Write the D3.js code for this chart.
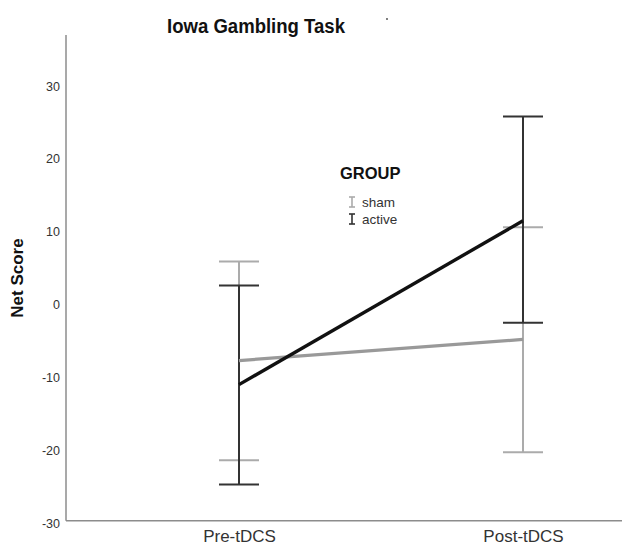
<!DOCTYPE html>
<html>
<head>
<meta charset="utf-8">
<script src="https://cdn.jsdelivr.net/npm/d3@7"></script>
<style>
  body { margin: 0; background: #fff; }
  svg { display: block; font-family: Arial, "Liberation Sans", sans-serif; }
</style>
</head>
<body>
<svg id="chart" width="622" height="547"></svg>
<script>
// Iowa Gambling Task: mean net score by session, with error bars per group
const sessions = ["Pre-tDCS", "Post-tDCS"];
const groups = ["sham", "active"];
const shamMean = [-7.7, -4.8];
const shamLow = [-21.4, -20.3];
const shamHigh = [5.9, 10.6];
const activeMean = [-11.0, 11.5];
const activeLow = [-24.7, -2.5];
const activeHigh = [2.6, 25.8];
const yTicks = [-30, -20, -10, 0, 10, 20, 30];

const series = [
  { name: "sham", mean: shamMean, low: shamLow, high: shamHigh,
    line: "#999999", bar: "#ababab", lineWidth: 3.2 },
  { name: "active", mean: activeMean, low: activeLow, high: activeHigh,
    line: "#111111", bar: "#333333", lineWidth: 3.4 }
];

const svg = d3.select("#chart");

const y = d3.scaleLinear().domain([-30, 30]).range([523, 86]);
const x = d3.scalePoint().domain(sessions).range([239, 523]);

const axisLeftX = 66;
const axisBottomY = y(-29.7);
const axisTopY = y(37);

// axis frame
svg.append("line")
  .attr("x1", axisLeftX).attr("x2", axisLeftX)
  .attr("y1", axisTopY).attr("y2", axisBottomY)
  .attr("stroke", "#8c8c8c").attr("stroke-width", 1.5);
svg.append("line")
  .attr("x1", axisLeftX).attr("x2", 622)
  .attr("y1", axisBottomY).attr("y2", axisBottomY)
  .attr("stroke", "#8c8c8c").attr("stroke-width", 1.5);

// y tick labels (no tick marks), plain hyphen for negatives
const yAxis = svg.append("g")
  .attr("transform", `translate(${axisLeftX - 6},0)`)
  .call(d3.axisLeft(y).tickValues(yTicks).tickFormat(d => String(d)).tickSize(0).tickPadding(0));
yAxis.select(".domain").remove();
yAxis.selectAll("text")
  .attr("font-size", 12.5).attr("fill", "#333")
  .attr("font-family", "Arial, 'Liberation Sans', sans-serif");

// x tick labels
const xAxis = svg.append("g")
  .attr("transform", `translate(0,${axisBottomY})`)
  .call(d3.axisBottom(x).tickSize(0).tickPadding(9));
xAxis.select(".domain").remove();
xAxis.selectAll("text")
  .attr("font-size", 17).attr("fill", "#333")
  .attr("font-family", "Arial, 'Liberation Sans', sans-serif");

// error bars
const capHalf = 20;
series.forEach(s => {
  const g = svg.append("g");
  sessions.forEach((sess, i) => {
    const cx = x(sess);
    g.append("line")
      .attr("x1", cx).attr("x2", cx)
      .attr("y1", y(s.high[i])).attr("y2", y(s.low[i]))
      .attr("stroke", s.bar).attr("stroke-width", 2);
    [s.high[i], s.low[i]].forEach(v => {
      g.append("line")
        .attr("x1", cx - capHalf).attr("x2", cx + capHalf)
        .attr("y1", y(v)).attr("y2", y(v))
        .attr("stroke", s.bar).attr("stroke-width", 2);
    });
  });
});

// mean lines
const line = d3.line().x((d, i) => x(sessions[i])).y(d => y(d));
series.forEach(s => {
  svg.append("path")
    .datum(s.mean)
    .attr("d", line)
    .attr("fill", "none")
    .attr("stroke", s.line)
    .attr("stroke-width", s.lineWidth)
    .attr("stroke-linecap", "butt");
});

// title
svg.append("text")
  .attr("x", 256).attr("y", 33)
  .attr("text-anchor", "middle")
  .attr("font-size", 20).attr("font-weight", "bold").attr("fill", "#111")
  .attr("textLength", 178).attr("lengthAdjust", "spacingAndGlyphs")
  .text("Iowa Gambling Task");
svg.append("circle").attr("cx", 387).attr("cy", 19).attr("r", 0.9).attr("fill", "#444");

// y axis title
svg.append("text")
  .attr("transform", "translate(23,278) rotate(-90)")
  .attr("text-anchor", "middle")
  .attr("font-size", 17).attr("font-weight", "bold").attr("fill", "#111")
  .text("Net Score");

// legend
const legend = svg.append("g");
legend.append("text")
  .attr("x", 340).attr("y", 179)
  .attr("font-size", 16.5).attr("font-weight", "bold").attr("fill", "#111")
  .text("GROUP");
series.forEach((s, i) => {
  const cy = 202 + i * 17;
  const gx = 352;
  legend.append("line").attr("x1", gx).attr("x2", gx)
    .attr("y1", cy - 5).attr("y2", cy + 5)
    .attr("stroke", s.bar).attr("stroke-width", 1.6);
  [cy - 5, cy + 5].forEach(yy => legend.append("line")
    .attr("x1", gx - 3).attr("x2", gx + 3).attr("y1", yy).attr("y2", yy)
    .attr("stroke", s.bar).attr("stroke-width", 1.6));
  legend.append("text")
    .attr("x", 362).attr("y", cy + 4.5)
    .attr("font-size", 13.5).attr("fill", "#333")
    .text(s.name);
});
</script>
</body>
</html>
